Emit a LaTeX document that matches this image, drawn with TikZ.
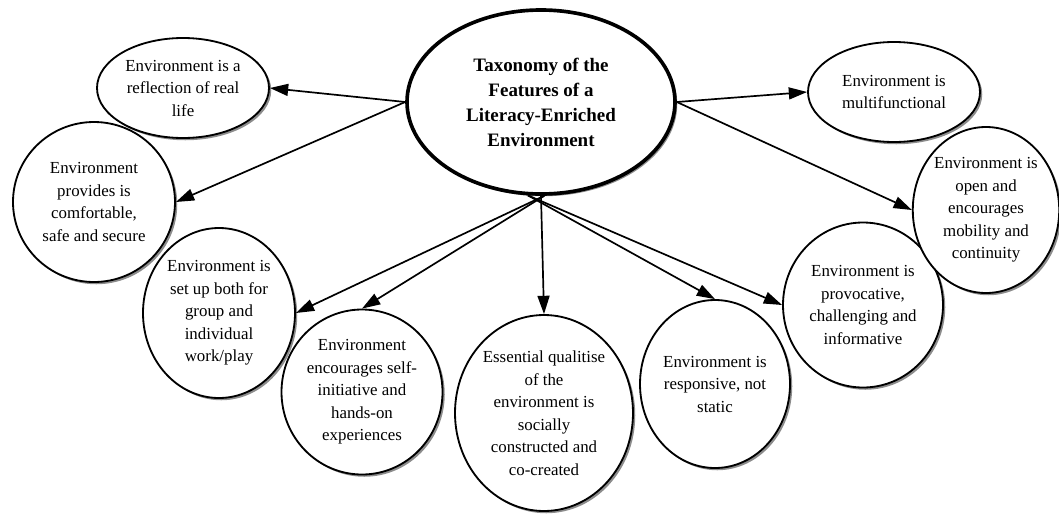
\documentclass[tikz,border=0pt]{standalone}
\usepackage{fontspec}
\setmainfont{Liberation Serif}
\usetikzlibrary{shapes.geometric,shadows,arrows.meta}

\begin{document}
\begin{tikzpicture}[
        bubble/.style={ellipse, draw, line width=1.3pt, fill=white, inner sep=0pt, align=center,
            font=\fontsize{12}{16}\selectfont,
            drop shadow={shadow xshift=1.6pt, shadow yshift=-1.6pt, fill=black!45, opacity=1}},
        hub/.style={bubble, line width=2.6pt, font=\bfseries\fontsize{13.5}{17.8}\selectfont},
        link/.style={-{Triangle[length=13pt,width=8.5pt]}, line width=1.2pt}
    ]
    \useasboundingbox (0,0) rectangle (26.475,-12.925);

    \node[hub, minimum width=6.7cm, minimum height=4.6cm] (tax) at (13.525,-2.55)
        {Taxonomy of the\\Features of a\\Literacy-Enriched\\Environment};

    \node[bubble, minimum width=4.3cm, minimum height=2.5cm] (refl) at (4.575,-2.2)
        {Environment is a\\reflection of real\\life};
    \node[bubble, minimum width=4.05cm, minimum height=4cm] (safe) at (2.35,-5.05)
        {Environment\\provides is\\comfortable,\\safe and secure};
    \node[bubble, minimum width=3.8cm, minimum height=4.25cm] (setup) at (5.475,-7.825)
        {Environment is\\set up both for\\group and\\individual\\work/play};
    \node[bubble, minimum width=4.025cm, minimum height=4.125cm] (self) at (9.05,-9.8)
        {Environment\\encourages self-\\initiative and\\hands-on\\experiences};
    \node[bubble, minimum width=4.45cm, minimum height=4.9cm] (ess) at (13.6,-10.325)
        {Essential qualitise\\of the\\environment is\\socially\\constructed and\\co-created};
    \node[bubble, minimum width=3.75cm, minimum height=4.2cm] (resp) at (17.875,-9.6)
        {Environment is\\responsive, not\\static};
    \node[bubble, minimum width=4cm, minimum height=4.125cm] (provo) at (21.575,-7.625)
        {Environment is\\provocative,\\challenging and\\informative};
    % the open one overlaps the provocative one a little
    \node[bubble, minimum width=3.6cm, minimum height=4.15cm] (open) at (24.65,-5.25)
        {Environment is\\open and\\encourages\\mobility and\\continuity};
    \node[bubble, minimum width=4.3cm, minimum height=2.5cm] (multi) at (22.35,-2.3)
        {Environment is\\multifunctional};

    \draw[link] (tax.west) -- (refl.east);
    \draw[link] (tax.west) -- (safe.east);
    \draw[link] (tax.-88) -- (setup.east);
    \draw[link] (tax.-88) -- (self.north);
    \draw[link] (tax.south) -- (ess.north);
    \draw[link] (tax.-98) -- (resp.north);
    \draw[link] (tax.-98) -- (provo.west);
    \draw[link] (tax.east) -- (open.west);
    \draw[link] (tax.east) -- (multi.west);
\end{tikzpicture}
\end{document}
